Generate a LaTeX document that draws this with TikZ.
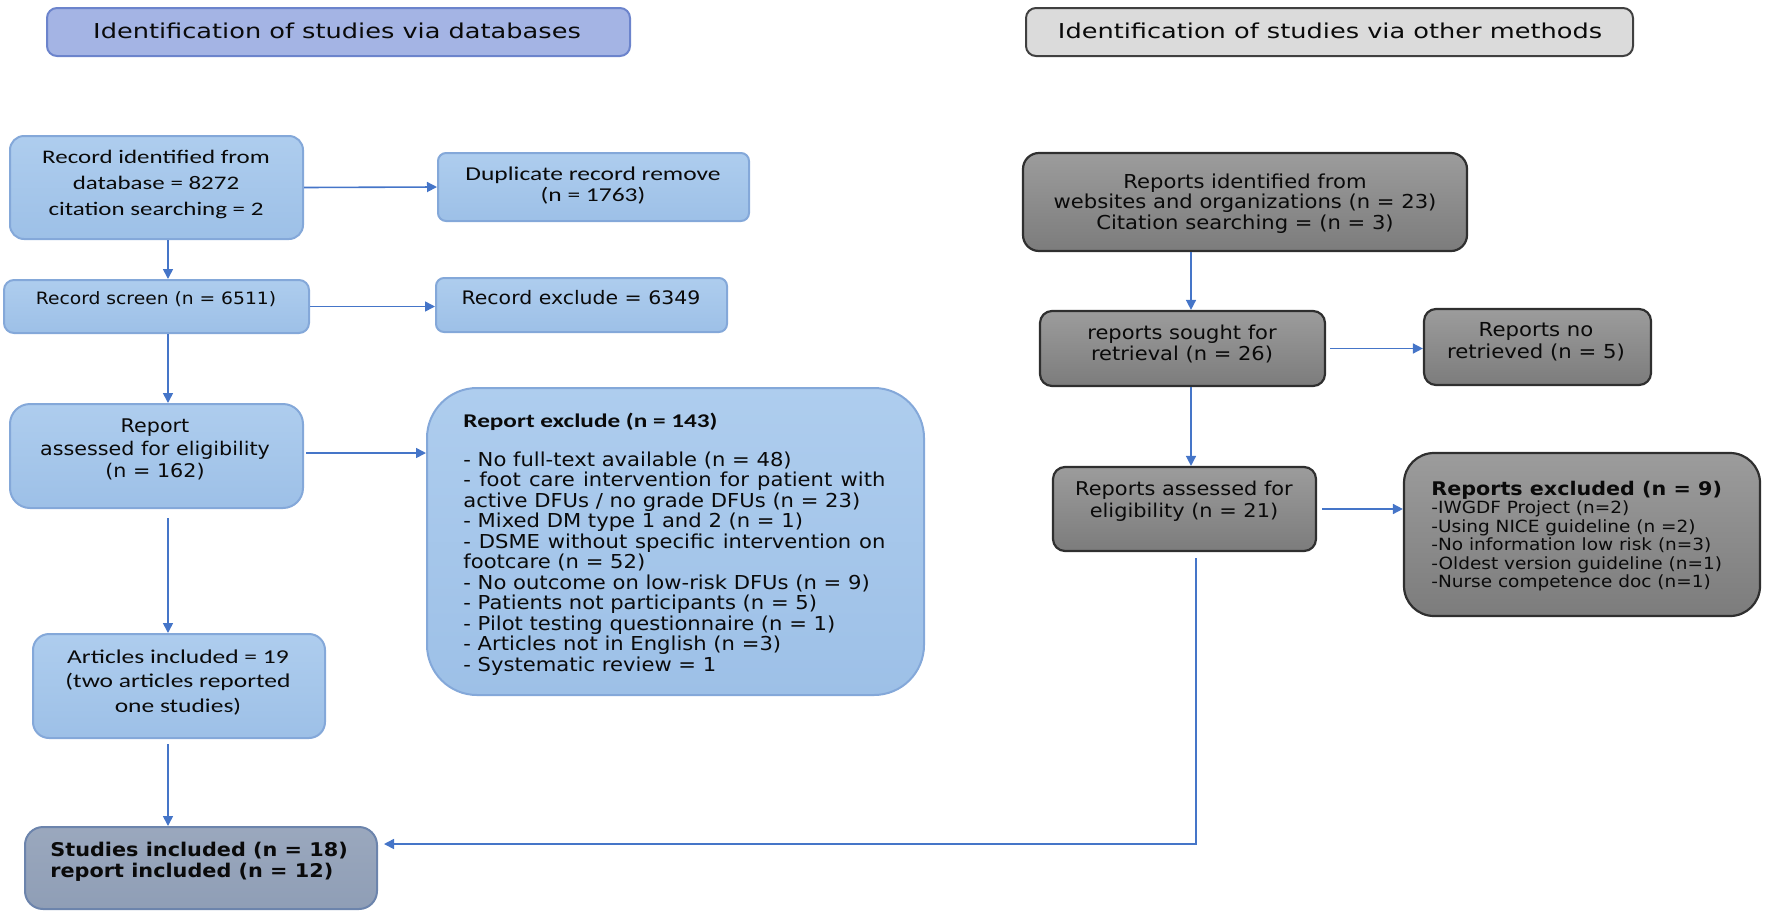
\documentclass[tikz,border=0pt]{standalone}
\usepackage{fontspec}
\setmainfont{DejaVu Sans}
\newfontfamily\hd[FakeStretch=1.25]{DejaVu Sans}
\newfontfamily\dv[FakeStretch=1.1]{DejaVu Sans}
\newfontfamily\cb[FakeStretch=1.3]{Carlito}
\usetikzlibrary{arrows.meta,calc}
\definecolor{blueTop}{HTML}{AECDEE}
\definecolor{blueBot}{HTML}{9DC0E7}
\definecolor{blueLine}{HTML}{84A8D9}
\definecolor{grayTop}{HTML}{9C9C9C}
\definecolor{grayBot}{HTML}{7C7C7C}
\definecolor{grayLine}{HTML}{2F2F2F}
\definecolor{hdrLfill}{HTML}{A4B4E4}
\definecolor{hdrLline}{HTML}{6C84CC}
\definecolor{hdrRfill}{HTML}{DBDBDB}
\definecolor{hdrRline}{HTML}{404040}
\definecolor{stuFill}{HTML}{8F9EB6}
\definecolor{stuLine}{HTML}{6C84AC}
\definecolor{arrc}{HTML}{4575C8}
\definecolor{txtc}{HTML}{0A0A0A}
\newcommand\fs[2]{\fontsize{#1}{#2}\selectfont}
\tikzset{
  boxbase/.style={draw, rectangle, inner sep=0pt, line width=1pt},
  bluebox/.style={boxbase, draw=blueLine, top color=blueTop, bottom color=blueBot},
  graybox/.style={boxbase, draw=grayLine, line width=1.1pt, top color=grayTop, bottom color=grayBot},
  txt/.style={inner sep=0pt, align=center, text=txtc},
  arr/.style={draw=arrc, line width=0.8pt, -{Triangle[length=5pt,width=5pt]}},
}
\begin{document}
\begin{tikzpicture}[x=0.5pt, y=-0.5pt]
\useasboundingbox (0,0) rectangle (1770,916);

% ---------- headers ----------
\node[boxbase, draw=hdrLline, fill=hdrLfill, rounded corners=5pt, minimum width=291.5pt, minimum height=24pt] (hdrL) at (338.5,32) {};
\node[txt, font=\hd\fs{10.25}{12}] (hdrLT) at (337,31) {Identification of studies via databases};
\node[boxbase, draw=hdrRline, fill=hdrRfill, rounded corners=5pt, minimum width=303.5pt, minimum height=24pt] (hdrR) at (1329.5,32) {};
\node[txt, font=\hd\fs{10.25}{12}] (hdrRT) at (1330,31) {Identification of studies via other methods};

% ---------- left column ----------
\node[bluebox, rounded corners=7pt, minimum width=146.5pt, minimum height=51.5pt] (rec) at (156.5,187.5) {};
\node[txt, font=\cb\fs{9.6}{13}] (recT) at (156,184.5) {Record identified from\\database = 8272\\citation searching = 2};

\node[bluebox, rounded corners=4pt, minimum width=155.5pt, minimum height=34pt] (dup) at (593.5,187) {};
\node[txt, font=\cb\fs{9.8}{10.5}] (dupT) at (593,185.5) {Duplicate record remove\\(n = 1763)};

\node[bluebox, rounded corners=5pt, minimum width=152.5pt, minimum height=26.5pt] (scr) at (156.5,306.5) {};
\node[txt, font=\dv\fs{8.5}{10}] (scrT) at (156,299) {Record screen (n = 6511)};

\node[bluebox, rounded corners=4pt, minimum width=145.5pt, minimum height=27pt] (rex) at (581.5,305) {};
\node[txt, font=\dv\fs{9.3}{11}] (rexT) at (581,298) {Record exclude = 6349};

\node[bluebox, rounded corners=10pt, minimum width=146.5pt, minimum height=52pt] (asl) at (156.5,456) {};
\node[txt, font=\dv\fs{9.4}{11.25}] (aslT) at (155,449.5) {Report\\assessed for eligibility\\(n = 162)};

\node[bluebox, rounded corners=25pt, minimum width=248.5pt, minimum height=153.5pt] (exl) at (675.5,541.5) {};
\node[txt, align=justify, text width=211pt, anchor=west, font=\dv\fs{9.6}{10.25}] (exlT) at (463,544) {%
{\cb\bfseries\fs{9.7}{10.25}Report exclude (n = 143)}\par\vspace{9.25pt}%
- No full-text available (n = 48)\par
- foot care intervention for patient with\linebreak active DFUs / no grade DFUs (n = 23)\par
- Mixed DM type 1 and 2 (n = 1)\par
- DSME without specific intervention on\linebreak footcare (n = 52)\par
- No outcome on low-risk DFUs (n = 9)\par
- Patients not participants (n = 5)\par
- Pilot testing questionnaire (n = 1)\par
- Articles not in English (n =3)\par
- Systematic review = 1};

\node[bluebox, rounded corners=8pt, minimum width=146pt, minimum height=52pt] (art) at (179,686) {};
\node[txt, font=\cb\fs{9.8}{12.25}] (artT) at (178,682.5) {Articles included = 19\\(two articles reported\\one studies)};

\node[boxbase, draw=stuLine, top color=stuFill!90!white, bottom color=stuFill, rounded corners=9pt, minimum width=176pt, minimum height=41pt] (stu) at (201,868) {};
\node[txt, align=left, anchor=west, font=\dv\bfseries\fs{9.45}{10.5}] (stuT) at (50,861.5) {Studies included (n = 18)\\report included (n = 12)};

% ---------- right column ----------
\node[graybox, rounded corners=8pt, minimum width=222pt, minimum height=49pt] (rid) at (1245,202) {};
\node[txt, font=\dv\fs{9.6}{10.25}] (ridT) at (1245,203.5) {Reports identified from\\websites and organizations (n = 23)\\Citation searching = (n = 3)};

\node[graybox, rounded corners=6pt, minimum width=142.5pt, minimum height=37.5pt] (sgt) at (1182.5,348.5) {};
\node[txt, font=\dv\fs{9.55}{10.5}] (sgtT) at (1182,343.5) {reports sought for\\retrieval (n = 26)};

\node[graybox, rounded corners=6pt, minimum width=113.5pt, minimum height=38pt] (nor) at (1537.5,347) {};
\node[txt, font=\dv\fs{9.65}{11}] (norT) at (1536,342) {Reports no\\retrieved (n = 5)};

\node[graybox, rounded corners=6pt, minimum width=131.5pt, minimum height=42pt] (asr) at (1184.5,509) {};
\node[txt, font=\dv\fs{9.5}{11}] (asrT) at (1184,501) {Reports assessed for\\eligibility (n = 21)};

\node[graybox, rounded corners=15pt, minimum width=178pt, minimum height=81.5pt] (exr) at (1582,534.5) {};
\node[txt, align=left, anchor=west, font=\dv\fs{8.4}{9.25}] (exrT) at (1431,536) {{\bfseries\fs{9.4}{10}Reports excluded (n = 9)}\\-IWGDF Project (n=2)\\-Using NICE guideline (n =2)\\-No information low risk (n=3)\\-Oldest version guideline (n=1)\\-Nurse competence doc (n=1)};

% ---------- connectors ----------
\coordinate (cx) at (168,0);
\coordinate (rx) at (1191,0);
\coordinate (rx2) at (1196,0);

\draw[arr] (rec.east) -- (dup.west);
\draw[arr] (rec.south -| cx) -- (scr.north -| cx);
\draw[arr] (scr.east) -- (scr.east -| rex.west);
\draw[arr] (scr.south -| cx) -- (asl.north -| cx);
\draw[arr] ($(asl.east)+(2,-3)$) -- ($(asl.east -| exl.west)+(0,-3)$);
\draw[arr] ($(asl.south -| cx)+(0,9)$) -- (art.north -| cx);
\draw[arr] ($(art.south -| cx)+(0,5)$) -- (stu.north -| cx);

\draw[arr] (rid.south -| rx) -- (sgt.north -| rx);
\draw[arr] ($(sgt.east)+(4,0)$) -- (sgt.east -| nor.west);
\draw[arr] (sgt.south -| rx) -- (asr.north -| rx);
\draw[arr] ($(asr.east)+(5,0)$) -- (asr.east -| exr.west);
\draw[arr] ($(asr.south -| rx2)+(0,6)$) |- ($(stu.north east)+(6,18)$);
\end{tikzpicture}
\end{document}
